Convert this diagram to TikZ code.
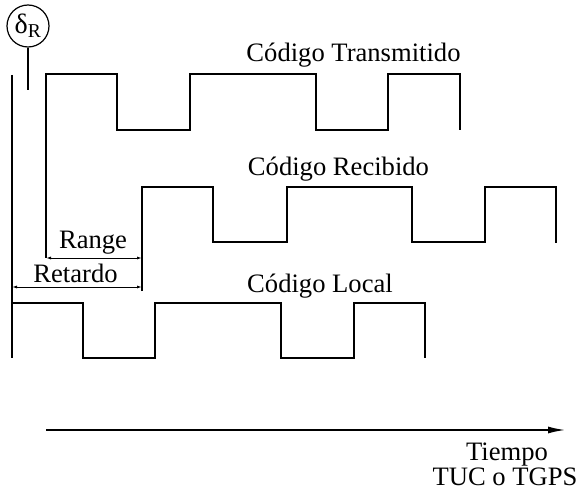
\documentclass[tikz,border=0pt]{standalone}
\usepackage{fontspec}
\setmainfont{Liberation Serif}
\usetikzlibrary{arrows.meta}
\begin{document}
\begin{tikzpicture}[x=1pt,y=-1pt,
  wave/.style={line width=2.2pt, line join=miter},
  lbl/.style={inner sep=0pt, anchor=base, font=\fontsize{26.6}{30}\selectfont},
  dim/.style={line width=0.9pt, {Latex[length=5pt,width=3pt]}-{Latex[length=5pt,width=3pt]}},
  axis/.style={line width=2pt, -{Latex[length=18pt,width=7pt]}}]
\useasboundingbox (0,0) rectangle (579,492);
% delta_R marker
\node[circle, draw, line width=1.2pt, minimum size=42pt, inner sep=0pt,
  font=\fontsize{28}{30}\selectfont] (dr) at (28,26) {δ\textsubscript{R}};
\coordinate (stemend) at (28,90);
\draw[line width=2pt] (dr.south) -- (stemend);
% reference vertical line
\coordinate (vtop) at (12,75);
\coordinate (vbot) at (12,358);
\draw[line width=2pt] (vtop) -- (vbot);
% transmitted code
\coordinate (t0) at (46,258);
\draw[wave] (t0) -- (46,74) -- (117,74) -- (117,130) -- (190,130) -- (190,74)
  -- (316,74) -- (316,130) -- (388,130) -- (388,74) -- (460,74) -- (460,130);
% received code
\coordinate (r0) at (142,291);
\draw[wave] (r0) -- (142,187) -- (213,187) -- (213,242) -- (287,242) -- (287,187)
  -- (412,187) -- (412,242) -- (485,242) -- (485,187) -- (556,187) -- (556,243);
% local code
\coordinate (l0) at (12,303);
\draw[wave] (l0) -- (83,303) -- (83,358) -- (155,358) -- (155,303)
  -- (281,303) -- (281,358) -- (354,358) -- (354,303) -- (425,303) -- (425,358);
% dimension lines
\coordinate (rgA) at (46,258);
\coordinate (rgB) at (142,258);
\coordinate (rtA) at (12,287);
\coordinate (rtB) at (142,287);
\draw[dim] (rgA) -- (rgB);
\draw[dim] (rtA) -- (rtB);
\node[lbl] (range) at (93,249) {Range};
\node[lbl] (retardo) at (75.5,283) {Retardo};
% labels
\node[lbl] (ctx) at (353.5,62) {Código Transmitido};
\node[lbl] (crx) at (338.5,176) {Código Recibido};
\node[lbl] (clo) at (320,292) {Código Local};
% time axis
\coordinate (ax0) at (46,430);
\coordinate (ax1) at (566,430);
\draw[axis] (ax0) -- (ax1);
\node[lbl] (tiempo) at (507,460) {Tiempo};
\node[lbl] (tuc) at (505,485) {TUC o TGPS};
\end{tikzpicture}
\end{document}
